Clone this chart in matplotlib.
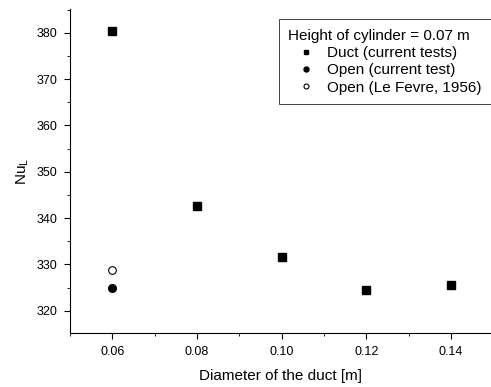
import matplotlib
matplotlib.use("Agg")
import matplotlib.pyplot as plt

plt.rcParams['font.family'] = ['Liberation Sans', 'DejaVu Sans']

# duct data
duct_d = [0.06, 0.08, 0.10, 0.12, 0.14]
duct_nu = [380.4, 342.6, 331.5, 324.4, 325.5]
# open (current test)
open_d = [0.06]
open_nu = [325.0]
# open (Le Fevre, 1956)
lefevre_d = [0.06]
lefevre_nu = [328.7]

fig = plt.figure(figsize=(4.91, 3.87), dpi=100)
ax = fig.add_axes([0.1426, 0.1395, 0.858, 0.837])

ax.plot(duct_d, duct_nu, 's', color='black', markersize=5.2, label='Duct (current tests)')
ax.plot(open_d, open_nu, 'o', color='black', markersize=5.5, label='Open (current test)')
ax.plot(lefevre_d, lefevre_nu, 'o', markerfacecolor='white', markeredgecolor='black',
        markeredgewidth=0.8, markersize=5.5, label='Open (Le Fevre, 1956)')

ax.set_xlim(0.05, 0.1495)
ax.set_ylim(315.2, 385.1)
ax.set_xticks([0.06, 0.08, 0.10, 0.12, 0.14])
ax.set_xticklabels(['0.06', '0.08', '0.10', '0.12', '0.14'])
ax.set_xticks([0.05, 0.07, 0.09, 0.11, 0.13], minor=True)
ax.set_yticks([320, 330, 340, 350, 360, 370, 380])
ax.set_yticks([325, 335, 345, 355, 365, 375, 385], minor=True)
ax.tick_params(which='major', direction='out', length=4, labelsize=9, pad=5)
ax.tick_params(which='minor', direction='out', length=2.5)

for s in ['top', 'right']:
    ax.spines[s].set_visible(False)

ax.set_xlabel('Diameter of the duct [m]', fontsize=11, labelpad=8)
ax.set_ylabel('Nu$_\\mathregular{L}$', fontsize=11)

leg = ax.legend(title='Height of cylinder = 0.07 m', loc='upper right',
                bbox_to_anchor=(0.999, 1 - 19.5 / 387), bbox_transform=fig.transFigure,
                borderaxespad=0, fontsize=11, title_fontsize=11,
                fancybox=False, edgecolor='#444444', framealpha=1,
                handlelength=2.4, handletextpad=0.15, borderpad=0.6,
                labelspacing=0.22, markerscale=0.65)
leg._legend_box.align = 'left'
leg.get_frame().set_linewidth(0.7)

fig.savefig('out.png', dpi=100)
